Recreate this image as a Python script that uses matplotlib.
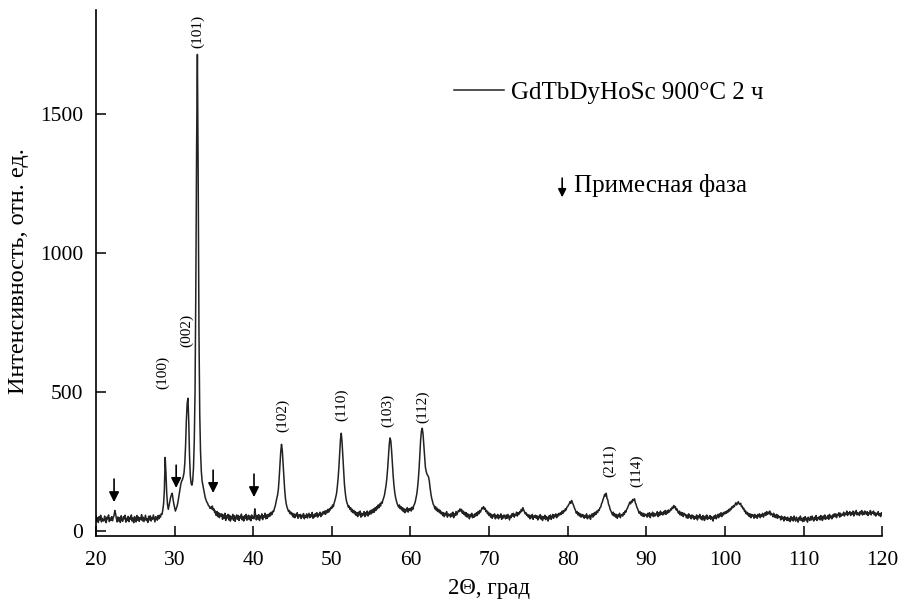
import numpy as np
import matplotlib
matplotlib.use('Agg')
import matplotlib.pyplot as plt

plt.rcParams['font.family'] = ['Liberation Serif', 'DejaVu Serif']

# 2Θ grid, 0.1 step from 20 to 120
two_theta = np.round(np.arange(200, 1201) / 10.0, 1)

# intensity, one row per degree (x.0 ... x.9)
intensity = [
    55, 35, 48, 31, 52, 40, 57, 33, 46, 38,   # 20
    36, 54, 41, 30, 50, 44, 58, 34, 47, 39,   # 21
    52, 37, 49, 56, 74, 62, 45, 33, 51, 36,   # 22
    48, 31, 55, 40, 35, 52, 44, 57, 32, 46,   # 23
    38, 53, 34, 49, 43, 58, 36, 47, 30, 52,   # 24
    45, 33, 56, 39, 51, 35, 48, 42, 59, 37,   # 25
    50, 34, 46, 57, 38, 44, 31, 53, 40, 55,   # 26
    36, 49, 42, 58, 45, 33, 52, 47, 39, 56,   # 27
    44, 57, 50, 62, 60, 76, 98, 148, 265, 210,   # 28
    135, 95, 78, 92, 105, 122, 130, 136, 115, 98,   # 29
    84, 72, 80, 88, 100, 118, 136, 155, 170, 180,   # 30
    185, 195, 210, 245, 310, 400, 460, 478, 395, 270,   # 31
    200, 172, 165, 180, 225, 320, 500, 870, 1380, 1715,   # 32
    1280, 720, 420, 285, 215, 180, 165, 148, 135, 120,   # 33
    112, 104, 100, 92, 90, 82, 86, 80, 90, 76,   # 34
    80, 66, 72, 56, 70, 52, 66, 48, 62, 54,   # 35
    62, 42, 58, 46, 64, 38, 55, 47, 60, 40,   # 36
    57, 36, 52, 44, 60, 39, 55, 35, 50, 58,   # 37
    42, 56, 38, 53, 47, 61, 40, 52, 36, 55,   # 38
    45, 60, 39, 51, 57, 41, 54, 37, 58, 46,   # 39
    52, 44, 80, 58, 40, 56, 43, 59, 38, 54,   # 40
    47, 62, 41, 55, 50, 64, 44, 58, 46, 60,   # 41
    52, 64, 55, 68, 60, 72, 70, 82, 90, 105,   # 42
    118, 130, 150, 190, 240, 285, 312, 290, 245, 195,   # 43
    150, 118, 98, 86, 78, 70, 74, 62, 68, 58,   # 44
    64, 50, 62, 48, 60, 54, 66, 46, 58, 52,   # 45
    60, 45, 57, 51, 63, 44, 56, 49, 62, 47,   # 46
    55, 64, 48, 59, 52, 67, 46, 58, 50, 63,   # 47
    54, 66, 50, 61, 57, 68, 52, 64, 58, 70,   # 48
    62, 72, 60, 74, 66, 78, 68, 80, 76, 86,   # 49
    82, 94, 88, 102, 110, 122, 135, 160, 190, 230,   # 50
    280, 330, 352, 320, 270, 215, 170, 140, 118, 104,   # 51
    96, 86, 90, 78, 84, 70, 78, 66, 74, 62,   # 52
    70, 56, 66, 52, 68, 58, 72, 50, 64, 55,   # 53
    60, 70, 52, 66, 58, 72, 54, 68, 60, 74,   # 54
    62, 76, 66, 80, 68, 84, 74, 88, 80, 94,   # 55
    84, 98, 90, 104, 100, 112, 120, 130, 148, 165,   # 56
    190, 225, 270, 310, 335, 325, 290, 245, 200, 165,   # 57
    140, 122, 110, 100, 92, 86, 94, 80, 88, 76,   # 58
    84, 70, 80, 66, 78, 72, 84, 68, 80, 74,   # 59
    82, 72, 86, 78, 90, 96, 104, 118, 132, 155,   # 60
    185, 225, 275, 330, 360, 370, 350, 310, 265, 230,   # 61
    215, 205, 200, 195, 180, 155, 135, 118, 108, 96,   # 62
    92, 80, 88, 74, 82, 70, 78, 66, 74, 62,   # 63
    68, 56, 66, 52, 64, 58, 70, 50, 62, 56,   # 64
    60, 50, 64, 54, 68, 48, 62, 56, 70, 58,   # 65
    66, 74, 70, 80, 72, 78, 64, 72, 60, 68,   # 66
    54, 66, 50, 62, 56, 44, 60, 52, 64, 48,   # 67
    58, 50, 62, 54, 66, 56, 70, 62, 74, 68,   # 68
    76, 84, 80, 88, 78, 82, 70, 74, 62, 68,   # 69
    56, 64, 50, 60, 46, 58, 52, 62, 44, 56,   # 70
    48, 60, 44, 56, 50, 62, 42, 55, 47, 58,   # 71
    52, 44, 58, 46, 60, 50, 40, 56, 48, 62,   # 72
    54, 64, 50, 60, 56, 68, 54, 66, 60, 70,   # 73
    66, 78, 72, 84, 76, 70, 62, 66, 56, 60,   # 74
    50, 58, 44, 56, 48, 60, 42, 54, 50, 57,   # 75
    46, 55, 40, 53, 47, 59, 43, 54, 38, 52,   # 76
    45, 57, 41, 52, 48, 36, 54, 44, 58, 42,   # 77
    50, 60, 46, 58, 52, 62, 48, 60, 54, 64,   # 78
    58, 66, 60, 72, 64, 74, 70, 80, 76, 86,   # 79
    88, 94, 98, 106, 100, 110, 102, 96, 88, 80,   # 80
    74, 64, 70, 58, 66, 54, 62, 50, 60, 52,   # 81
    58, 46, 56, 50, 62, 44, 54, 48, 58, 42,   # 82
    55, 62, 50, 64, 56, 68, 60, 72, 66, 76,   # 83
    74, 84, 86, 98, 104, 114, 122, 132, 126, 136,   # 84
    118, 112, 96, 90, 78, 72, 66, 58, 68, 54,   # 85
    62, 50, 60, 46, 58, 52, 64, 48, 56, 60,   # 86
    54, 66, 60, 72, 68, 78, 82, 90, 96, 104,   # 87
    98, 108, 104, 114, 110, 116, 102, 96, 86, 80,   # 88
    72, 64, 70, 58, 66, 54, 64, 52, 62, 56,   # 89
    60, 50, 64, 54, 66, 48, 62, 56, 68, 52,   # 90
    64, 54, 62, 58, 70, 52, 66, 56, 72, 60,   # 91
    66, 58, 70, 62, 74, 60, 72, 64, 76, 68,   # 92
    72, 80, 76, 86, 82, 92, 84, 88, 76, 80,   # 93
    70, 64, 72, 58, 68, 56, 66, 52, 64, 58,   # 94
    60, 48, 58, 46, 62, 50, 56, 44, 58, 48,   # 95
    55, 42, 52, 46, 58, 40, 54, 48, 60, 44,   # 96
    52, 40, 56, 46, 38, 54, 44, 58, 42, 50,   # 97
    46, 56, 42, 52, 48, 36, 54, 46, 58, 44,   # 98
    52, 60, 48, 62, 54, 66, 52, 64, 58, 68,   # 99
    62, 70, 64, 74, 68, 78, 72, 82, 78, 88,   # 100
    84, 92, 88, 96, 102, 94, 100, 106, 98, 96,   # 101
    100, 88, 90, 80, 82, 70, 74, 62, 68, 58,   # 102
    64, 52, 62, 48, 60, 54, 58, 46, 60, 50,   # 103
    56, 46, 60, 52, 62, 48, 58, 54, 64, 50,   # 104
    58, 66, 56, 70, 60, 68, 62, 72, 58, 64,   # 105
    60, 52, 64, 50, 58, 48, 60, 46, 56, 50,   # 106
    52, 40, 54, 44, 50, 36, 52, 42, 48, 38,   # 107
    50, 38, 46, 34, 52, 40, 48, 36, 54, 42,   # 108
    36, 50, 42, 32, 48, 40, 54, 38, 46, 34,   # 109
    48, 36, 52, 40, 46, 32, 50, 42, 38, 52,   # 110
    40, 54, 44, 36, 50, 42, 56, 38, 48, 44,   # 111
    52, 40, 56, 46, 38, 54, 44, 58, 42, 50,   # 112
    46, 56, 42, 60, 48, 54, 44, 58, 50, 62,   # 113
    52, 62, 48, 60, 56, 66, 50, 64, 54, 60,   # 114
    58, 68, 54, 64, 60, 72, 56, 66, 62, 70,   # 115
    56, 66, 60, 72, 54, 68, 62, 74, 58, 66,   # 116
    64, 56, 70, 62, 74, 58, 68, 60, 72, 64,   # 117
    60, 70, 56, 66, 62, 74, 58, 68, 64, 72,   # 118
    58, 66, 54, 64, 60, 70, 56, 62, 52, 66,   # 119
    58,                                       # 120
]

# peak indexing labels
peak_labels = ['(100)', '(002)', '(101)', '(102)', '(110)', '(103)', '(112)', '(211)', '(114)']
label_x = [28.5, 31.5, 32.9, 43.7, 51.3, 57.1, 61.5, 85.3, 88.8]
label_y = [572, 723, 1798, 417, 453, 435, 446, 252, 216]

# impurity phase arrows (position, arrow top, arrow tip)
impurity_x = [22.3, 30.2, 34.9, 40.1]
impurity_top = [187, 237, 219, 205]
impurity_tip = [104, 155, 137, 122]

fig = plt.figure(figsize=(9.02, 6.03), dpi=100)
ax = fig.add_axes([0.1064, 0.111, 0.8716, 0.872])

ax.plot(two_theta, intensity, color='#222222', lw=1.1, label='GdTbDyHoSc 900°C 2 ч')

for lab, lx, ly in zip(peak_labels, label_x, label_y):
    ax.text(lx, ly, lab, rotation=90, ha='center', va='center', fontsize=11)

arrow_style = dict(arrowstyle='-|>', color='black', lw=1.2, mutation_scale=15, shrinkA=0, shrinkB=0)
for ix, top, tip in zip(impurity_x, impurity_top, impurity_tip):
    ax.annotate('', xy=(ix, tip), xytext=(ix, top), arrowprops=arrow_style)

# legend-like marker for impurity phase
ax.annotate('', xy=(79.3, 1201), xytext=(79.3, 1270),
            arrowprops=dict(arrowstyle='-|>', color='black', lw=1.2, mutation_scale=12,
                            shrinkA=0, shrinkB=0))
ax.text(80.8, 1245, 'Примесная фаза', fontsize=18, ha='left', va='center')

ax.legend(loc='center left', bbox_to_anchor=(0.455, 0.844), frameon=False,
          handlelength=2.0, handletextpad=0.28, borderpad=0, borderaxespad=0,
          fontsize=18)

ax.set_xlim(20, 120)
ax.set_ylim(-18, 1874)
ax.set_xticks(range(20, 121, 10))
ax.set_yticks([0, 500, 1000, 1500])
ax.tick_params(direction='in', length=7, width=1.1, labelsize=15.5)
ax.tick_params(axis='x', pad=11)
ax.tick_params(axis='y', pad=9)
for s in ['top', 'right']:
    ax.spines[s].set_visible(False)
for s in ['left', 'bottom']:
    ax.spines[s].set_linewidth(1.2)

ax.set_xlabel('2Θ, град', fontsize=16.5)
ax.set_ylabel('Интенсивность, отн. ед.', fontsize=17.5)
ax.xaxis.label.set_va('center')
ax.yaxis.label.set_va('center')
ax.xaxis.set_label_coords(0.5, -0.099)
ax.yaxis.set_label_coords(-0.098, 0.504)

fig.savefig('out.png', dpi=100)
